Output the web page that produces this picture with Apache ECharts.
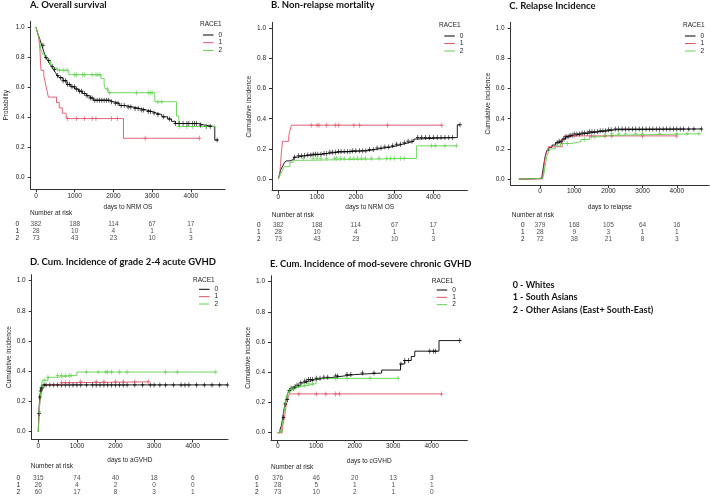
<!DOCTYPE html>
<html><head><meta charset="utf-8">
<script src="https://cdn.jsdelivr.net/npm/echarts@6/dist/echarts.min.js"></script>
<style>html,body{margin:0;padding:0;background:#fff}#c{width:710px;height:500px}</style>
</head><body><div id="c"></div><script>
// ---------------- DATA ----------------
const xTicks = [0, 1000, 2000, 3000, 4000];
const yTicks = [0, 0.2, 0.4, 0.6, 0.8, 1.0];
const groups = ['0', '1', '2'];
const groupColors = ['#000000', '#DF536B', '#61D04F'];

// A. Overall survival  (step points [day, probability])
const osWhite = [[0,1],[30,0.97],[60,0.95],[100,0.92],[150,0.88],[200,0.84],[250,0.8],[300,0.78],[350,0.76],[400,0.74],[450,0.72],[500,0.70],[550,0.68],[600,0.665],[700,0.645],[800,0.62],[900,0.605],[1000,0.59],[1100,0.575],[1200,0.56],[1300,0.545],[1400,0.53],[1480,0.515],[1900,0.505],[2000,0.495],[2150,0.48],[2300,0.47],[2500,0.46],[2700,0.45],[2850,0.44],[3000,0.43],[3100,0.42],[3250,0.405],[3400,0.39],[3500,0.375],[3600,0.36],[4200,0.35],[4350,0.34],[4620,0.25],[4700,0.25]];
const osSouth = [[0,1],[40,0.964],[70,0.929],[100,0.857],[120,0.75],[130,0.714],[200,0.679],[230,0.643],[260,0.607],[290,0.571],[320,0.536],[530,0.5],[600,0.464],[680,0.429],[780,0.393],[2260,0.262],[4220,0.262]];
const osOther = [[0,1],[40,0.96],[80,0.93],[120,0.86],[170,0.82],[230,0.795],[300,0.78],[380,0.755],[430,0.73],[550,0.715],[850,0.685],[1680,0.66],[1760,0.62],[1790,0.59],[1860,0.565],[3070,0.505],[3630,0.41],[3690,0.34],[4600,0.34]];
const osWhiteCens = [180,260,330,420,480,560,640,700,760,820,870,930,990,1050,1120,1180,1250,1320,1400,1450,1520,1580,1640,1700,1760,1820,1880,1950,2050,2120,2200,2280,2380,2450,2560,2640,2720,2780,2900,2960,3050,3150,3300,3450,3600,3700,3800,3900,3950,4050,4100,4150,4250,4400,4500,4680];
const osSouthCens = [820,1050,1250,1450,1550,1950,2100,2820,4220];
const osOtherCens = [380,600,700,800,1000,1050,1200,1250,1450,1550,1600,1650,1850,1900,2600,2900,2950,3000,3150,3250,3700,3900,4050,4400,4600];
const riskOS0 = [382,188,114,67,17], riskOS1 = [28,10,4,1,1], riskOS2 = [73,43,23,10,3];

// B. Non-relapse mortality (cumulative incidence)
const nrmWhite = [[0,0],[30,0.03],[60,0.06],[100,0.08],[150,0.105],[200,0.12],[300,0.13],[400,0.145],[500,0.155],[700,0.16],[900,0.165],[1150,0.17],[1300,0.178],[1550,0.182],[1900,0.188],[2300,0.195],[2500,0.205],[2700,0.212],[2900,0.22],[3050,0.23],[3200,0.24],[3350,0.25],[3500,0.265],[3550,0.275],[4620,0.36],[4690,0.36]];
const nrmSouth = [[0,0],[40,0.036],[60,0.107],[80,0.178],[110,0.25],[270,0.286],[300,0.321],[340,0.357],[4220,0.357]];
const nrmOther = [[0,0],[50,0.027],[100,0.055],[150,0.082],[300,0.11],[380,0.124],[650,0.137],[3570,0.22],[4600,0.22]];
const nrmWhiteCens = [420,520,600,680,760,840,900,960,1020,1100,1180,1250,1330,1400,1480,1550,1620,1700,1780,1850,1920,2000,2100,2180,2260,2350,2450,2550,2650,2750,2850,2950,3050,3150,3250,3350,3450,3600,3700,3800,3900,4000,4100,4200,4300,4400,4500,4690];
const nrmSouthCens = [850,1000,1050,1250,1470,1560,1950,2100,2820,4220];
const nrmOtherCens = [650,900,1000,1100,1250,1450,1500,1600,1700,1850,1950,2050,2150,2250,2400,2600,2800,2900,3000,3150,3250,3950,4050,4300,4600];
const riskNRM0 = [382,188,114,67,17], riskNRM1 = [28,10,4,1,1], riskNRM2 = [73,43,23,10,3];

// C. Relapse incidence
const relWhite = [[-620,0],[-300,0.005],[50,0.013],[80,0.05],[120,0.11],[160,0.16],[200,0.19],[260,0.21],[350,0.225],[450,0.24],[550,0.25],[650,0.265],[750,0.28],[850,0.29],[1000,0.298],[1200,0.305],[1450,0.313],[1700,0.32],[2000,0.327],[2200,0.332],[4720,0.332]];
const relSouth = [[-620,0],[70,0],[110,0.071],[150,0.143],[200,0.179],[250,0.214],[650,0.25],[700,0.286],[4000,0.286]];
const relOther = [[-620,0],[-300,0.005],[80,0.012],[120,0.04],[150,0.09],[200,0.15],[250,0.18],[300,0.2],[450,0.22],[600,0.235],[900,0.248],[1200,0.262],[1450,0.28],[1800,0.29],[2100,0.3],[4650,0.3]];
const relWhiteCens = [500,560,620,700,760,820,880,940,1000,1080,1150,1230,1300,1380,1450,1520,1600,1680,1760,1840,1920,2000,2080,2200,2300,2400,2500,2600,2700,2800,2900,3000,3100,3200,3300,3400,3500,3600,3700,3800,3900,4000,4100,4200,4350,4500,4720];
const relSouthCens = [1000,1500,1900,2100,3000,4000];
const relOtherCens = [800,1300,1600,1900,2100,2300,2500,2800,3000,3500,4000,4300,4650];
const riskREL0 = [379,168,105,64,16], riskREL1 = [28,9,3,1,1], riskREL2 = [72,38,21,8,3];

// D. Grade 2-4 acute GVHD
const agvhdWhite = [[0,0],[5,0.05],[15,0.12],[25,0.18],[40,0.23],[60,0.27],[80,0.29],[110,0.31],[4900,0.31]];
const agvhdSouth = [[0,0],[10,0.08],[25,0.15],[40,0.19],[60,0.23],[90,0.27],[120,0.31],[600,0.325],[1000,0.33],[2850,0.33]];
const agvhdOther = [[0,0],[5,0.02],[15,0.07],[25,0.13],[40,0.2],[55,0.25],[75,0.3],[110,0.34],[250,0.36],[450,0.373],[1000,0.395],[4600,0.395]];
const agvhdWhiteCens = [20,40,60,80,100,150,200,300,400,500,600,700,800,900,1000,1100,1250,1400,1500,1600,1700,1800,1900,2000,2100,2200,2300,2500,2700,2900,3000,3150,3300,3500,3700,3800,3900,4100,4300,4500,4700,4900];
const agvhdSouthCens = [600,700,800,1100,1500,1700,2000,2200,2500,2850];
const agvhdOtherCens = [30,60,100,150,250,500,600,700,800,850,1250,1550,1750,1800,1900,2100,2300,3300,3600,4600];
const riskAG0 = [315,74,40,18,6], riskAG1 = [26,4,2,0,0], riskAG2 = [60,17,8,3,1];

// E. Moderate-severe chronic GVHD
const cgvhdWhite = [[0,0],[60,0.02],[100,0.05],[130,0.1],[160,0.15],[190,0.19],[220,0.22],[260,0.26],[300,0.28],[350,0.295],[420,0.305],[500,0.315],[600,0.33],[700,0.34],[800,0.352],[1000,0.36],[1200,0.368],[1500,0.375],[1700,0.385],[2000,0.395],[2700,0.415],[3190,0.455],[3300,0.478],[3470,0.505],[3560,0.54],[4190,0.61],[4730,0.61]];
const cgvhdSouth = [[0,0],[120,0.036],[150,0.07],[180,0.107],[200,0.143],[220,0.179],[250,0.214],[300,0.257],[4260,0.257]];
const cgvhdOther = [[0,0],[70,0.01],[110,0.04],[140,0.09],[170,0.15],[200,0.2],[230,0.24],[270,0.27],[330,0.29],[450,0.305],[600,0.315],[800,0.325],[1000,0.36],[3130,0.36]];
const cgvhdWhiteCens = [150,200,250,300,350,400,450,500,550,600,700,750,800,850,900,1000,1100,1200,1300,1500,1550,1800,1900,2200,2500,3200,3300,3400,3950,4050,4100,4730];
const cgvhdSouthCens = [550,1000,1250,1500,1600,4260];
const cgvhdOtherCens = [100,200,250,300,350,400,500,600,700,800,900,1500,1800,2400,3130];
const riskCG0 = [376,46,20,13,3], riskCG1 = [28,5,1,1,1], riskCG2 = [73,10,2,1,0];

const footnotes = ['0 - Whites', '1 - South Asians', '2 - Other Asians (East+ South-East)'];

// ---------------- PANELS (text + layout) ----------------
const panels = [
  { title:'A. Overall survival', xName:'days to NRM OS', yName:'Probability',
    curves:[osWhite,osSouth,osOther], cens:[osWhiteCens,osSouthCens,osOtherCens], risk:[riskOS0,riskOS1,riskOS2],
    L:{lx:30.7,x0:36,kx:0.0387,xmax:4888,y1:27.3,y0:177.7,by:189.3,ymax:1.04,
       titleX:30,titleY:6,legX:200,legY:24,legLineX:203,legRow:35,legGap:7.7,yNameX:7,xNameY:207,
       narX:30,narY:213,riskRow:224,riskGap:7.15,rowLabR:19} },
  { title:'B. Non-relapse mortality', xName:'days to NRM OS', yName:'Cumulative incidence',
    curves:[nrmWhite,nrmSouth,nrmOther], cens:[nrmWhiteCens,nrmSouthCens,nrmOtherCens], risk:[riskNRM0,riskNRM1,riskNRM2],
    L:{lx:272,x0:278.3,kx:0.03875,xmax:4880,y1:28.3,y0:179,by:190.7,ymax:1.04,
       titleX:271,titleY:6,legX:439,legY:25,legLineX:444.3,legRow:36,legGap:7.5,yNameX:250,xNameY:207,
       narX:271.7,narY:215,riskRow:225,riskGap:7,rowLabR:260.5} },
  { title:'C. Relapse Incidence', xName:'days to relapse', yName:'Cumulative incidence',
    curves:[relWhite,relSouth,relOther], cens:[relWhiteCens,relSouthCens,relOtherCens], risk:[riskREL0,riskREL1,riskREL2],
    L:{lx:510.7,x0:540,kx:0.0342,xmax:4944,y1:28.3,y0:179,by:185,ymax:1.04,
       titleX:509.3,titleY:7,legX:683,legY:25,legLineX:685,legRow:36,legGap:7.5,yNameX:490,xNameY:207,
       narX:511.7,narY:215,riskRow:225,riskGap:7.2,rowLabR:524.5} },
  { title:'D. Cum. Incidence of grade 2-4 acute GVHD', xName:'days to aGVHD', yName:'Cumulative incidence',
    curves:[agvhdWhite,agvhdSouth,agvhdOther], cens:[agvhdWhiteCens,agvhdSouthCens,agvhdOtherCens], risk:[riskAG0,riskAG1,riskAG2],
    L:{lx:31.7,x0:38.3,kx:0.0386,xmax:4915,y1:280.7,y0:431.7,by:439.5,ymax:1.04,
       titleX:30,titleY:263.3,legX:193,legY:280,legLineX:199,legRow:289.3,legGap:7.35,yNameX:10,xNameY:460,
       narX:30.7,narY:466.7,riskRow:478.3,riskGap:7,rowLabR:20} },
  { title:'E. Cum. Incidence of mod-severe chronic GVHD', xName:'days to cGVHD', yName:'Cumulative incidence',
    curves:[cgvhdWhite,cgvhdSouth,cgvhdOther], cens:[cgvhdWhiteCens,cgvhdSouthCens,cgvhdOtherCens], risk:[riskCG0,riskCG1,riskCG2],
    L:{lx:271,x0:277.7,kx:0.0385,xmax:4926,y1:281.7,y0:432.7,by:440,ymax:1.04,
       titleX:270,titleY:265,legX:431.7,legY:281.7,legLineX:436.7,legRow:290,legGap:7.35,yNameX:248.3,xNameY:461,
       narX:271,narY:467.3,riskRow:478.3,riskGap:7.2,rowLabR:258.5} }
];

// ---------------- BUILD ----------------
const SANS = '"Liberation Sans", Arial, sans-serif';
const TITLEF = 'Lato, "Open Sans", sans-serif';
const TXT = '#222';
const plusSym = 'path://M2,0H3V2H5V3H3V5H2V3H0V2H2Z';
function stepAt(c, t) { let v = c[0][1]; for (const p of c) { if (p[0] <= t) v = p[1]; else break; } return v; }

const option = { animation:false, backgroundColor:'#fff', grid:[], xAxis:[], yAxis:[], series:[], legend:[], graphic:[] };

panels.forEach((P) => {
  const L = P.L;
  const ky = L.y0 - L.y1;
  const xmin = -(L.x0 - L.lx) / L.kx;
  const ymin = -(L.by - L.y0) / ky;
  const w = (L.xmax - xmin) * L.kx;
  const gi = option.grid.length;
  option.grid.push({ left:L.lx, top:L.y0 - L.ymax*ky, width:w, height:(L.ymax - ymin)*ky, outerBoundsMode:'none' });
  option.xAxis.push({ type:'value', gridIndex:gi, min:xmin, max:L.xmax,
    axisLine:{ show:true, onZero:false, lineStyle:{ color:'#333', width:1 } },
    axisTick:{ show:true, customValues:xTicks, length:3, lineStyle:{ color:'#333' } },
    axisLabel:{ customValues:xTicks, formatter:v => String(v), fontSize:6.5, fontFamily:SANS, color:TXT, margin:3 },
    splitLine:{ show:false },
    name:P.xName, nameLocation:'middle', nameGap:L.xNameY - L.by - 3.2, nameTextStyle:{ fontSize:6.5, fontFamily:SANS, color:TXT } });
  option.yAxis.push({ type:'value', gridIndex:gi, min:ymin, max:L.ymax,
    axisLine:{ show:true, onZero:false, lineStyle:{ color:'#333', width:1 } },
    axisTick:{ show:true, customValues:yTicks, length:3, lineStyle:{ color:'#333' } },
    axisLabel:{ customValues:yTicks, formatter:v => v.toFixed(1), fontSize:6.5, fontFamily:SANS, color:TXT, margin:6 },
    splitLine:{ show:false },
    name:P.yName, nameLocation:'middle', nameRotate:90, nameGap:L.lx - L.yNameX - 3.2, nameTextStyle:{ fontSize:6.5, fontFamily:SANS, color:TXT } });
  P.curves.forEach((c, k) => {
    option.series.push({ type:'line', name:groups[k], xAxisIndex:gi, yAxisIndex:gi, data:c, step:'end', symbol:'none',
      color:groupColors[k], lineStyle:{ width:0.9, color:groupColors[k] }, silent:true, z:3 });
  });
  P.curves.forEach((c, k) => {
    option.series.push({ type:'scatter', name:groups[k], xAxisIndex:gi, yAxisIndex:gi,
      data:P.cens[k].map(t => [t, stepAt(c, t)]), symbol:plusSym, symbolSize:[3.5, 5],
      itemStyle:{ color:groupColors[k], opacity:0.85 }, silent:true, z:4 });
  });
  // risk table grid
  const ri = option.grid.length;
  const rh = L.riskGap * 3;
  option.grid.push({ left:L.lx, top:L.riskRow - L.riskGap/2, width:w, height:rh, outerBoundsMode:'none' });
  option.xAxis.push({ type:'value', gridIndex:ri, min:xmin, max:L.xmax, show:false });
  option.yAxis.push({ type:'category', gridIndex:ri, data:groups, inverse:true,
    axisLine:{ show:false }, axisTick:{ show:false }, splitLine:{ show:false },
    axisLabel:{ interval:0, margin:L.lx - L.rowLabR, fontSize:6.5, fontFamily:SANS, color:TXT } });
  P.risk.forEach((row, r) => {
    option.series.push({ type:'scatter', xAxisIndex:ri, yAxisIndex:ri, symbolSize:1,
      itemStyle:{ color:'rgba(0,0,0,0)' }, silent:true,
      data:xTicks.map((t, j) => [t, r, row[j]]),
      label:{ show:true, position:'inside', formatter:p => String(p.value[2]), fontSize:6.5, fontFamily:SANS, color:TXT } });
  });
  // legend
  option.legend.push({ orient:'vertical', left:L.legLineX, top:L.legRow - L.legGap/2, data:groups, selectedMode:false,
    icon:'rect', itemWidth:10.5, itemHeight:1, itemGap:0, padding:0,
    textStyle:{ fontSize:6.5, fontFamily:SANS, color:TXT, lineHeight:L.legGap, height:L.legGap } });
  option.graphic.push({ type:'text', left:L.legX, top:L.legY - 3.5, style:{ text:'RACE1', font:'6.5px ' + SANS, fill:TXT } });
  option.graphic.push({ type:'text', left:L.titleX, top:L.titleY - 6, style:{ text:P.title, font:'bold 9.5px ' + TITLEF, fill:'#111' } });
  option.graphic.push({ type:'text', left:L.narX, top:L.narY - 3.5, style:{ text:'Number at risk', font:'6.5px ' + SANS, fill:TXT } });
});
const footY = [286, 298.3, 311];
footnotes.forEach((f, i) => {
  option.graphic.push({ type:'text', left:512.7, top:footY[i] - 5.8, style:{ text:f, font:'bold 9px ' + TITLEF, fill:'#111' } });
});

const chart = echarts.init(document.getElementById('c'), null, { renderer:'canvas' });
chart.setOption(option);
</script></body></html>
